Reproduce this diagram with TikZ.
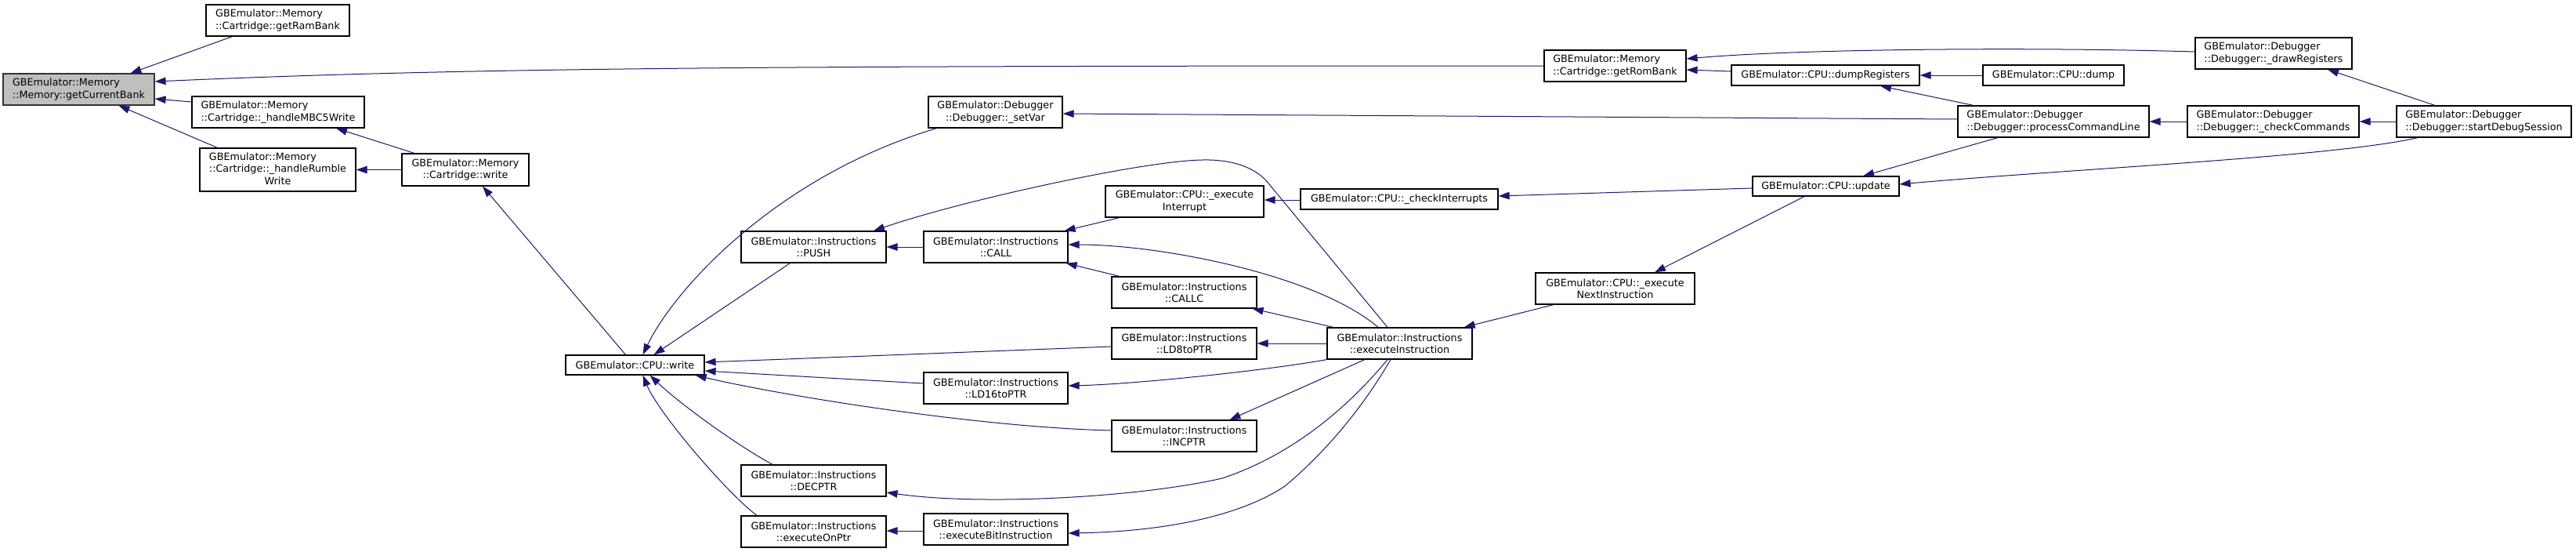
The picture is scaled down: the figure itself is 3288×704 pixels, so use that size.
\documentclass[tikz,border=0pt]{standalone}
\usepackage{fontspec}
\setmainfont{DejaVu Sans}
\usetikzlibrary{arrows.meta}
\definecolor{edgec}{HTML}{191970}
\definecolor{graynode}{HTML}{BFBFBF}
\tikzset{
  box/.style={draw=black, line width=1.2pt, fill=white, inner sep=2pt,
    font=\fontsize{12.75}{15.5}\selectfont, align=center},
  lbox/.style={box, align=left},
  e/.style={draw=edgec, line width=1.0pt, {Triangle[length=14pt,width=9.5pt]}-},
}
\begin{document}
\begin{tikzpicture}[x=1pt,y=-1pt]
\useasboundingbox (0,0) rectangle (3288,704);
% nodes
\node[lbox, fill=graynode, draw=black!80, minimum width=193pt, minimum height=40pt] (gcb) at (100.5,114) {GBEmulator::Memory\\::Memory::getCurrentBank};
\node[lbox, minimum width=183pt, minimum height=40pt] (ramb) at (354.5,26) {GBEmulator::Memory\\::Cartridge::getRamBank};
\node[lbox, minimum width=220pt, minimum height=40pt] (mbc) at (355,143) {GBEmulator::Memory\\::Cartridge::\_handleMBC5Write};
\node[box, minimum width=199pt, minimum height=55pt] (rum) at (354.5,216.5) {\begin{tabular}{@{}l@{}}GBEmulator::Memory\\::Cartridge::\_handleRumble\\\multicolumn{1}{@{}c@{}}{Write}\end{tabular}};
\node[box, minimum width=162pt, minimum height=41pt] (cw) at (594,216.5) {GBEmulator::Memory\\::Cartridge::write};
\node[box, minimum width=177pt, minimum height=25pt] (cpw) at (810.5,465.5) {GBEmulator::CPU::write};
\node[box, minimum width=171pt, minimum height=40pt] (sv) at (1270.5,143) {GBEmulator::Debugger\\::Debugger::\_setVar};
\node[box, minimum width=185pt, minimum height=40pt] (push) at (1038.5,315) {GBEmulator::Instructions\\::PUSH};
\node[box, minimum width=184pt, minimum height=40pt] (call) at (1271,315) {GBEmulator::Instructions\\::CALL};
\node[box, minimum width=202pt, minimum height=40pt] (eint) at (1512,257) {GBEmulator::CPU::\_execute\\Interrupt};
\node[box, minimum width=252pt, minimum height=26pt] (ci) at (1786,254) {GBEmulator::CPU::\_checkInterrupts};
\node[box, minimum width=185pt, minimum height=40pt] (callc) at (1511.5,373) {GBEmulator::Instructions\\::CALLC};
\node[box, minimum width=185pt, minimum height=40pt] (ld8) at (1511.5,438) {GBEmulator::Instructions\\::LD8toPTR};
\node[box, minimum width=184pt, minimum height=40pt] (ld16) at (1271,495) {GBEmulator::Instructions\\::LD16toPTR};
\node[box, minimum width=185pt, minimum height=40pt] (inc) at (1511.5,556) {GBEmulator::Instructions\\::INCPTR};
\node[box, minimum width=185pt, minimum height=40pt] (dec) at (1038.5,613) {GBEmulator::Instructions\\::DECPTR};
\node[box, minimum width=185pt, minimum height=40pt] (eop) at (1038.5,678) {GBEmulator::Instructions\\::executeOnPtr};
\node[box, minimum width=184pt, minimum height=40pt] (eb) at (1271,675) {GBEmulator::Instructions\\::executeBitInstruction};
\node[box, minimum width=185pt, minimum height=40pt] (ei) at (1786.5,438) {GBEmulator::Instructions\\::executeInstruction};
\node[box, minimum width=203pt, minimum height=40pt] (en) at (2061.5,368) {GBEmulator::CPU::\_execute\\NextInstruction};
\node[box, minimum width=187pt, minimum height=25pt] (upd) at (2330.5,237.5) {GBEmulator::CPU::update};
\node[lbox, minimum width=181pt, minimum height=40pt] (romb) at (2061.5,84) {GBEmulator::Memory\\::Cartridge::getRomBank};
\node[box, minimum width=240pt, minimum height=26pt] (dreg) at (2330,96) {GBEmulator::CPU::dumpRegisters};
\node[box, minimum width=180pt, minimum height=26pt] (dump) at (2621,96) {GBEmulator::CPU::dump};
\node[lbox, minimum width=244pt, minimum height=40pt] (pc) at (2621,155) {GBEmulator::Debugger\\::Debugger::processCommandLine};
\node[lbox, minimum width=219pt, minimum height=40pt] (cc) at (2901.5,155) {GBEmulator::Debugger\\::Debugger::\_checkCommands};
\node[lbox, minimum width=223pt, minimum height=40pt] (sd) at (3170.5,155) {GBEmulator::Debugger\\::Debugger::startDebugSession};
\node[lbox, minimum width=200pt, minimum height=40pt] (dr) at (2902,68) {GBEmulator::Debugger\\::Debugger::\_drawRegisters};
% edges (arrow tip at callee)
\draw[e] ([xshift=66pt]gcb.north) -- ([xshift=-58pt]ramb.south);
\draw[e] ([yshift=10pt]gcb.east) .. controls (600,86) and (1000,84) .. (romb.west);
\draw[e] ([yshift=-12pt]gcb.east) -- ([yshift=13pt]mbc.west);
\draw[e] ([xshift=51pt]gcb.south) -- ([xshift=-77pt]rum.north);
\draw[e] ([xshift=74pt]mbc.south) -- ([xshift=-65pt]cw.north);
\draw[e] (rum.east) -- (cw.west);
\draw[e] ([xshift=22pt]cw.south) -- ([xshift=-12pt]cpw.north);
\draw[e] ([xshift=10pt]cpw.north) .. controls (860,370) and (990,225) .. ([xshift=-75pt]sv.south);
\draw[e] ([xshift=24pt]cpw.north) -- ([xshift=-30pt]push.south);
\draw[e] ([yshift=3.5pt]cpw.east) -- ([yshift=-4pt]ld8.west);
\draw[e] ([yshift=-7.5pt]cpw.east) -- ([yshift=6pt]ld16.west);
\draw[e] ([xshift=-12pt]cpw.south east) .. controls (1000,505) and (1250,545) .. ([yshift=7pt]inc.west);
\draw[e] ([xshift=19pt]cpw.south) .. controls (869,516) and (941,568) .. ([xshift=-52.5pt]dec.north);
\draw[e] ([xshift=10pt]cpw.south) .. controls (840,526) and (926,627) .. ([xshift=-72.5pt]eop.north);
\draw[e] (push.east) -- (call.west);
\draw[e] ([xshift=76.5pt]push.north) .. controls (1230,255) and (1460,205) .. (1535,204) .. controls (1575,203) and (1605,215) .. (1620,235) -- ([xshift=-15.5pt]ei.north);
\draw[e] ([xshift=-5pt]call.north east) -- ([xshift=-83pt]eint.south);
\draw[e] ([yshift=3pt]call.east) .. controls (1480,312) and (1680,350) .. ([xshift=-27.5pt]ei.north);
\draw[e] ([xshift=-3pt]call.south east) -- ([xshift=-82.5pt]callc.north);
\draw[e] ([xshift=-6pt]callc.south east) -- ([xshift=-84.5pt]ei.north);
\draw[e] (ld8.east) -- (ei.west);
\draw[e] ([yshift=3pt]ld16.east) .. controls (1450,490) and (1620,472) .. (ei.south west);
\draw[e] ([xshift=58pt]inc.north) -- ([xshift=-44.5pt]ei.south);
\draw[e] ([yshift=-15pt]dec.east) .. controls (1250,645) and (1450,635) .. (1560,610) .. controls (1650,580) and (1720,520) .. ([xshift=-15.5pt]ei.south);
\draw[e] ([yshift=-5pt]eb.east) .. controls (1480,678) and (1580,660) .. (1640,620) .. controls (1700,570) and (1745,510) .. ([xshift=-11.5pt]ei.south);
\draw[e] ([yshift=1pt]eop.east) -- ([yshift=-2pt]eb.west);
\draw[e] ([yshift=2pt]eint.east) -- ([yshift=-1pt]ci.west);
\draw[e] ([yshift=4pt]ci.east) -- ([yshift=-2.5pt]upd.west);
\draw[e] ([xshift=-11pt]ei.north east) -- ([xshift=-78.5pt]en.south);
\draw[e] ([xshift=50.5pt]en.north) -- ([xshift=-27.5pt]upd.south);
\draw[e] ([xshift=47.5pt]upd.north) -- ([xshift=-71pt]pc.south);
\draw[e] ([yshift=2.5pt]upd.east) .. controls (2650,215) and (2980,200) .. ([xshift=-84.5pt]sd.south);
\draw[e] ([yshift=-2pt]sv.east) -- ([yshift=3pt]pc.west);
\draw[e] ([yshift=9pt]romb.east) .. controls (2300,62) and (2600,60) .. ([yshift=2pt]dr.west);
\draw[e] ([yshift=-5pt]romb.east) -- ([yshift=5pt]dreg.west);
\draw[e] (dreg.east) -- (dump.west);
\draw[e] ([xshift=70pt]dreg.south) -- ([xshift=-102pt]pc.north);
\draw[e] (pc.east) -- (cc.west);
\draw[e] (cc.east) -- (sd.west);
\draw[e] ([xshift=69pt]dr.south) -- ([xshift=-62.5pt]sd.north);
\end{tikzpicture}
\end{document}
